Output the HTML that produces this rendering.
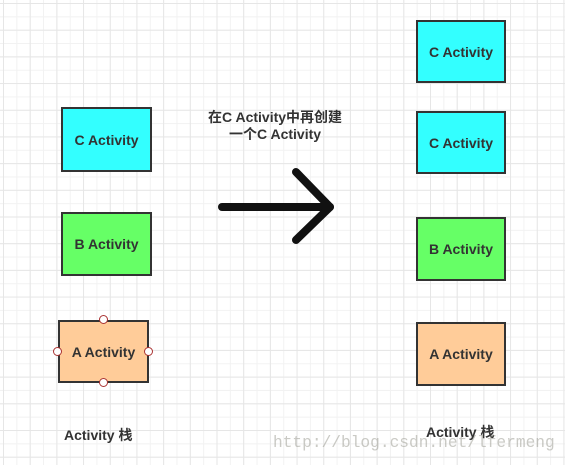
<!DOCTYPE html><html><head><style>
body{margin:0;width:565px;height:465px;position:relative;overflow:hidden;background:#fff;
background-image:linear-gradient(#e6e6e6 1px,transparent 1px),linear-gradient(90deg,#e6e6e6 1px,transparent 1px),linear-gradient(#f2f2f2 1px,transparent 1px),linear-gradient(90deg,#f2f2f2 1px,transparent 1px);
background-size:26.7px 26.7px,26.7px 26.7px,13.35px 13.35px,13.35px 13.35px;background-position:3px 3px;
font-family:"Liberation Sans","Noto Sans CJK SC",sans-serif;}
.b{position:absolute;box-sizing:border-box;border:2px solid #333;display:flex;align-items:center;justify-content:center;font-weight:bold;font-size:14px;color:#333}
.c{background:#33ffff}.g{background:#66ff66}.o{background:#ffcc99}
.t{position:absolute;font-weight:bold;font-size:14px;color:#333;white-space:nowrap}
.h{position:absolute;width:7px;height:7px;border:1px solid #a33;border-radius:50%;background:#fff}
</style></head><body>
<div class="b c" style="left:61px;top:107px;width:91px;height:65px">C Activity</div>
<div class="b g" style="left:61px;top:212px;width:91px;height:64px">B Activity</div>
<div class="b o" style="left:58px;top:320px;width:91px;height:63px">A Activity</div>
<div class="h" style="left:99px;top:315px"></div><div class="h" style="left:99px;top:378px"></div>
<div class="h" style="left:53px;top:347px"></div><div class="h" style="left:144px;top:347px"></div>
<div class="b c" style="left:416px;top:20px;width:90px;height:63px">C Activity</div>
<div class="b c" style="left:416px;top:111px;width:90px;height:63px">C Activity</div>
<div class="b g" style="left:416px;top:217px;width:90px;height:64px">B Activity</div>
<div class="b o" style="left:416px;top:322px;width:90px;height:64px">A Activity</div>
<div class="t" style="left:64px;top:425px">Activity 栈</div>
<div class="t" style="left:426px;top:422px">Activity 栈</div>
<div class="t" style="left:208px;top:107px">在C Activity中再创建</div>
<div class="t" style="left:229px;top:124px">一个C Activity</div>
<svg style="position:absolute;left:0;top:0" width="565" height="465"><g stroke="#111" stroke-width="8" stroke-linecap="round" fill="none" stroke-linejoin="round"><line x1="222" y1="207" x2="330" y2="207"/><polyline points="296,172 330,207 296,240"/></g></svg>
<div style="position:absolute;left:273px;top:434px;font-family:'Liberation Mono',monospace;font-size:16.2px;color:rgba(150,150,140,0.5);white-space:nowrap">http://blog.csdn.net/lfermeng</div>
</body></html>
